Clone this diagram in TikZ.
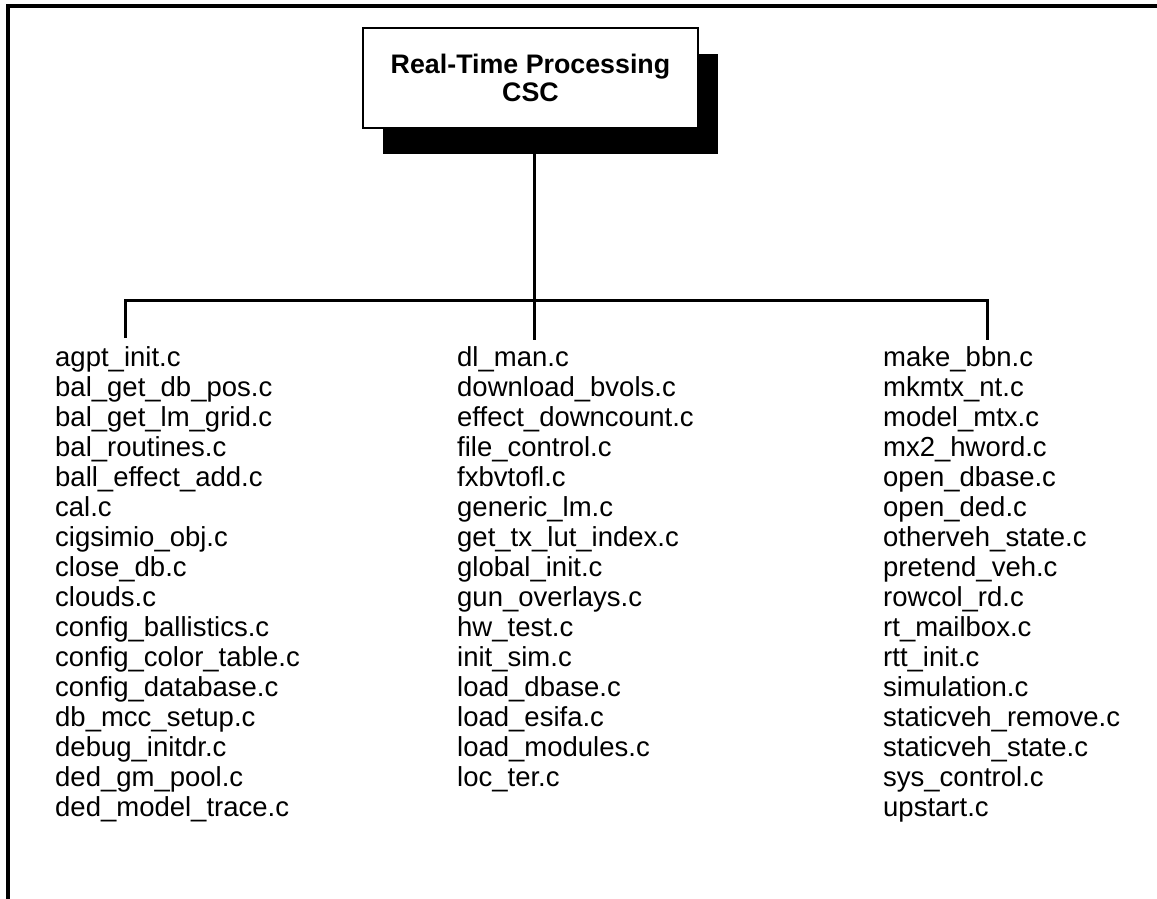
\documentclass[tikz,border=0pt]{standalone}
\usepackage{fontspec}
\setmainfont{Liberation Sans}
\usetikzlibrary{shadows}

\tikzset{
  cscbox/.style={draw, line width=2pt, fill=white, align=center,
    font=\fontsize{26.8}{28}\selectfont\bfseries,
    minimum width=335pt, minimum height=100pt, inner sep=0pt,
    drop shadow={shadow xshift=20pt, shadow yshift=-26pt, fill=black, opacity=1}},
  filename/.style={anchor=base west, inner sep=0pt, font=\fontsize{27.5}{30}\selectfont},
  wire/.style={line width=3pt, line join=miter},
}

\begin{document}
\begin{tikzpicture}[x=1pt, y=-1pt]
  \useasboundingbox (0,0) rectangle (1157,899);

  % Page frame (only top and left edges show)
  \draw[line width=3.5pt] (8,899) -- (8,6) -- (1157,6);

  % CSC box with its heavy shadow
  \node[cscbox] (csc) at (530.5,78) {Real-Time Processing\\CSC};

  % File lists
  \foreach \f [count=\i] in {agpt\_init.c, bal\_get\_db\_pos.c, bal\_get\_lm\_grid.c,
      bal\_routines.c, ball\_effect\_add.c, cal.c, cigsimio\_obj.c, close\_db.c,
      clouds.c, config\_ballistics.c, config\_color\_table.c, config\_database.c,
      db\_mcc\_setup.c, debug\_initdr.c, ded\_gm\_pool.c, ded\_model\_trace.c}
    \node[filename] (L\i) at (55,336+30*\i) {\f};
  \foreach \f [count=\i] in {dl\_man.c, download\_bvols.c, effect\_downcount.c,
      file\_control.c, fxbvtofl.c, generic\_lm.c, get\_tx\_lut\_index.c,
      global\_init.c, gun\_overlays.c, hw\_test.c, init\_sim.c, load\_dbase.c,
      load\_esifa.c, load\_modules.c, loc\_ter.c}
    \node[filename] (M\i) at (457,336+30*\i) {\f};
  \foreach \f [count=\i] in {make\_bbn.c, mkmtx\_nt.c, model\_mtx.c, mx2\_hword.c,
      open\_dbase.c, open\_ded.c, otherveh\_state.c, pretend\_veh.c, rowcol\_rd.c,
      rt\_mailbox.c, rtt\_init.c, simulation.c, staticveh\_remove.c,
      staticveh\_state.c, sys\_control.c, upstart.c}
    \node[filename] (R\i) at (883,336+30*\i) {\f};

  % Tree connectors
  \coordinate (stem) at ([xshift=3.5pt]csc.south);
  \coordinate (busL) at (125,300);
  \coordinate (busR) at (987,300);
  \coordinate (tapL) at (125,338);
  \coordinate (tapR) at (987,340);
  \draw[wire] (tapL) -- (busL) -- (busR) -- (tapR);
  \draw[wire] (stem) -- (stem |- tapR);

\end{tikzpicture}
\end{document}
